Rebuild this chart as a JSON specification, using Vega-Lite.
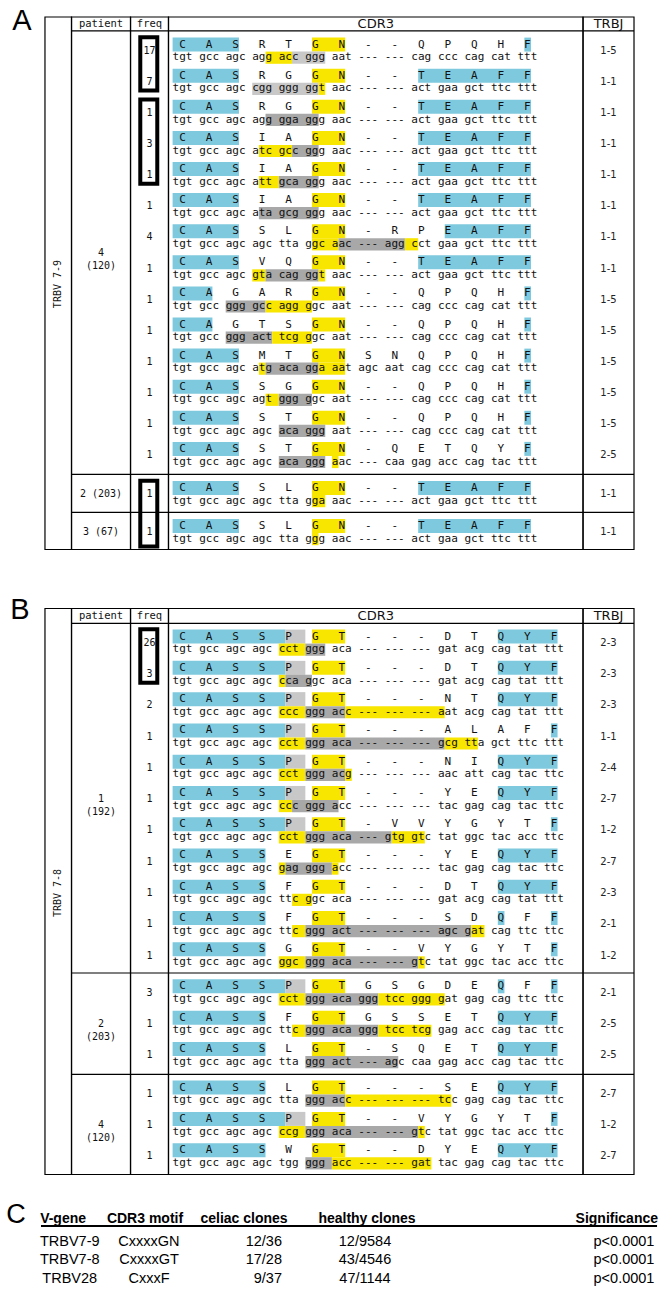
{
"$schema": "https://vega.github.io/schema/vega-lite/v6.json",
"padding": 0,
"spacing": 0,
"bounds": "flush",
"background": "white",
"config": {"view": {"stroke": null}, "axis": {"disable": true}, "legend": {"disable": true}},
"datasets": {
"cols": [
{"col":"vgene","header":"","from":-19.23,"to":-15.23},
{"col":"patient","header":"patient","from":-15.23,"to":-6.34},
{"col":"freq","header":"freq","from":-6.34,"to":-0.62},
{"col":"cdr3","header":"CDR3","from":-0.62,"to":61.84},
{"col":"trbj","header":"TRBJ","from":61.84,"to":69.52}
],
"seqA": [
{"row":0,"vgene":"TRBV 7-9","patient":"4 (120)","freq":17,"trbj":"1-5","aa":"C\u00a0\u00a0\u00a0A\u00a0\u00a0\u00a0S\u00a0\u00a0\u00a0R\u00a0\u00a0\u00a0T\u00a0\u00a0\u00a0G\u00a0\u00a0\u00a0N\u00a0\u00a0\u00a0-\u00a0\u00a0\u00a0-\u00a0\u00a0\u00a0Q\u00a0\u00a0\u00a0P\u00a0\u00a0\u00a0Q\u00a0\u00a0\u00a0H\u00a0\u00a0\u00a0F","nt":"tgt gcc agc agg acc ggg aat --- --- cag ccc cag cat ttt"},
{"row":1,"vgene":"TRBV 7-9","patient":"4 (120)","freq":7,"trbj":"1-1","aa":"C\u00a0\u00a0\u00a0A\u00a0\u00a0\u00a0S\u00a0\u00a0\u00a0R\u00a0\u00a0\u00a0G\u00a0\u00a0\u00a0G\u00a0\u00a0\u00a0N\u00a0\u00a0\u00a0-\u00a0\u00a0\u00a0-\u00a0\u00a0\u00a0T\u00a0\u00a0\u00a0E\u00a0\u00a0\u00a0A\u00a0\u00a0\u00a0F\u00a0\u00a0\u00a0F","nt":"tgt gcc agc cgg ggg ggt aac --- --- act gaa gct ttc ttt"},
{"row":2,"vgene":"TRBV 7-9","patient":"4 (120)","freq":1,"trbj":"1-1","aa":"C\u00a0\u00a0\u00a0A\u00a0\u00a0\u00a0S\u00a0\u00a0\u00a0R\u00a0\u00a0\u00a0G\u00a0\u00a0\u00a0G\u00a0\u00a0\u00a0N\u00a0\u00a0\u00a0-\u00a0\u00a0\u00a0-\u00a0\u00a0\u00a0T\u00a0\u00a0\u00a0E\u00a0\u00a0\u00a0A\u00a0\u00a0\u00a0F\u00a0\u00a0\u00a0F","nt":"tgt gcc agc agg gga ggg aac --- --- act gaa gct ttc ttt"},
{"row":3,"vgene":"TRBV 7-9","patient":"4 (120)","freq":3,"trbj":"1-1","aa":"C\u00a0\u00a0\u00a0A\u00a0\u00a0\u00a0S\u00a0\u00a0\u00a0I\u00a0\u00a0\u00a0A\u00a0\u00a0\u00a0G\u00a0\u00a0\u00a0N\u00a0\u00a0\u00a0-\u00a0\u00a0\u00a0-\u00a0\u00a0\u00a0T\u00a0\u00a0\u00a0E\u00a0\u00a0\u00a0A\u00a0\u00a0\u00a0F\u00a0\u00a0\u00a0F","nt":"tgt gcc agc atc gcc ggg aac --- --- act gaa gct ttc ttt"},
{"row":4,"vgene":"TRBV 7-9","patient":"4 (120)","freq":1,"trbj":"1-1","aa":"C\u00a0\u00a0\u00a0A\u00a0\u00a0\u00a0S\u00a0\u00a0\u00a0I\u00a0\u00a0\u00a0A\u00a0\u00a0\u00a0G\u00a0\u00a0\u00a0N\u00a0\u00a0\u00a0-\u00a0\u00a0\u00a0-\u00a0\u00a0\u00a0T\u00a0\u00a0\u00a0E\u00a0\u00a0\u00a0A\u00a0\u00a0\u00a0F\u00a0\u00a0\u00a0F","nt":"tgt gcc agc att gca ggg aac --- --- act gaa gct ttc ttt"},
{"row":5,"vgene":"TRBV 7-9","patient":"4 (120)","freq":1,"trbj":"1-1","aa":"C\u00a0\u00a0\u00a0A\u00a0\u00a0\u00a0S\u00a0\u00a0\u00a0I\u00a0\u00a0\u00a0A\u00a0\u00a0\u00a0G\u00a0\u00a0\u00a0N\u00a0\u00a0\u00a0-\u00a0\u00a0\u00a0-\u00a0\u00a0\u00a0T\u00a0\u00a0\u00a0E\u00a0\u00a0\u00a0A\u00a0\u00a0\u00a0F\u00a0\u00a0\u00a0F","nt":"tgt gcc agc ata gcg ggg aac --- --- act gaa gct ttc ttt"},
{"row":6,"vgene":"TRBV 7-9","patient":"4 (120)","freq":4,"trbj":"1-1","aa":"C\u00a0\u00a0\u00a0A\u00a0\u00a0\u00a0S\u00a0\u00a0\u00a0S\u00a0\u00a0\u00a0L\u00a0\u00a0\u00a0G\u00a0\u00a0\u00a0N\u00a0\u00a0\u00a0-\u00a0\u00a0\u00a0R\u00a0\u00a0\u00a0P\u00a0\u00a0\u00a0E\u00a0\u00a0\u00a0A\u00a0\u00a0\u00a0F\u00a0\u00a0\u00a0F","nt":"tgt gcc agc agc tta ggc aac --- agg cct gaa gct ttc ttt"},
{"row":7,"vgene":"TRBV 7-9","patient":"4 (120)","freq":1,"trbj":"1-1","aa":"C\u00a0\u00a0\u00a0A\u00a0\u00a0\u00a0S\u00a0\u00a0\u00a0V\u00a0\u00a0\u00a0Q\u00a0\u00a0\u00a0G\u00a0\u00a0\u00a0N\u00a0\u00a0\u00a0-\u00a0\u00a0\u00a0-\u00a0\u00a0\u00a0T\u00a0\u00a0\u00a0E\u00a0\u00a0\u00a0A\u00a0\u00a0\u00a0F\u00a0\u00a0\u00a0F","nt":"tgt gcc agc gta cag ggt aac --- --- act gaa gct ttc ttt"},
{"row":8,"vgene":"TRBV 7-9","patient":"4 (120)","freq":1,"trbj":"1-5","aa":"C\u00a0\u00a0\u00a0A\u00a0\u00a0\u00a0G\u00a0\u00a0\u00a0A\u00a0\u00a0\u00a0R\u00a0\u00a0\u00a0G\u00a0\u00a0\u00a0N\u00a0\u00a0\u00a0-\u00a0\u00a0\u00a0-\u00a0\u00a0\u00a0Q\u00a0\u00a0\u00a0P\u00a0\u00a0\u00a0Q\u00a0\u00a0\u00a0H\u00a0\u00a0\u00a0F","nt":"tgt gcc ggg gcc agg ggc aat --- --- cag ccc cag cat ttt"},
{"row":9,"vgene":"TRBV 7-9","patient":"4 (120)","freq":1,"trbj":"1-5","aa":"C\u00a0\u00a0\u00a0A\u00a0\u00a0\u00a0G\u00a0\u00a0\u00a0T\u00a0\u00a0\u00a0S\u00a0\u00a0\u00a0G\u00a0\u00a0\u00a0N\u00a0\u00a0\u00a0-\u00a0\u00a0\u00a0-\u00a0\u00a0\u00a0Q\u00a0\u00a0\u00a0P\u00a0\u00a0\u00a0Q\u00a0\u00a0\u00a0H\u00a0\u00a0\u00a0F","nt":"tgt gcc ggg act tcg ggc aat --- --- cag ccc cag cat ttt"},
{"row":10,"vgene":"TRBV 7-9","patient":"4 (120)","freq":1,"trbj":"1-5","aa":"C\u00a0\u00a0\u00a0A\u00a0\u00a0\u00a0S\u00a0\u00a0\u00a0M\u00a0\u00a0\u00a0T\u00a0\u00a0\u00a0G\u00a0\u00a0\u00a0N\u00a0\u00a0\u00a0S\u00a0\u00a0\u00a0N\u00a0\u00a0\u00a0Q\u00a0\u00a0\u00a0P\u00a0\u00a0\u00a0Q\u00a0\u00a0\u00a0H\u00a0\u00a0\u00a0F","nt":"tgt gcc agc atg aca gga aat agc aat cag ccc cag cat ttt"},
{"row":11,"vgene":"TRBV 7-9","patient":"4 (120)","freq":1,"trbj":"1-5","aa":"C\u00a0\u00a0\u00a0A\u00a0\u00a0\u00a0S\u00a0\u00a0\u00a0S\u00a0\u00a0\u00a0G\u00a0\u00a0\u00a0G\u00a0\u00a0\u00a0N\u00a0\u00a0\u00a0-\u00a0\u00a0\u00a0-\u00a0\u00a0\u00a0Q\u00a0\u00a0\u00a0P\u00a0\u00a0\u00a0Q\u00a0\u00a0\u00a0H\u00a0\u00a0\u00a0F","nt":"tgt gcc agc agt ggg ggc aat --- --- cag ccc cag cat ttt"},
{"row":12,"vgene":"TRBV 7-9","patient":"4 (120)","freq":1,"trbj":"1-5","aa":"C\u00a0\u00a0\u00a0A\u00a0\u00a0\u00a0S\u00a0\u00a0\u00a0S\u00a0\u00a0\u00a0T\u00a0\u00a0\u00a0G\u00a0\u00a0\u00a0N\u00a0\u00a0\u00a0-\u00a0\u00a0\u00a0-\u00a0\u00a0\u00a0Q\u00a0\u00a0\u00a0P\u00a0\u00a0\u00a0Q\u00a0\u00a0\u00a0H\u00a0\u00a0\u00a0F","nt":"tgt gcc agc agc aca ggg aat --- --- cag ccc cag cat ttt"},
{"row":13,"vgene":"TRBV 7-9","patient":"4 (120)","freq":1,"trbj":"2-5","aa":"C\u00a0\u00a0\u00a0A\u00a0\u00a0\u00a0S\u00a0\u00a0\u00a0S\u00a0\u00a0\u00a0T\u00a0\u00a0\u00a0G\u00a0\u00a0\u00a0N\u00a0\u00a0\u00a0-\u00a0\u00a0\u00a0Q\u00a0\u00a0\u00a0E\u00a0\u00a0\u00a0T\u00a0\u00a0\u00a0Q\u00a0\u00a0\u00a0Y\u00a0\u00a0\u00a0F","nt":"tgt gcc agc agc aca ggg aac --- caa gag acc cag tac ttt"},
{"row":14,"vgene":"TRBV 7-9","patient":"2 (203)","freq":1,"trbj":"1-1","aa":"C\u00a0\u00a0\u00a0A\u00a0\u00a0\u00a0S\u00a0\u00a0\u00a0S\u00a0\u00a0\u00a0L\u00a0\u00a0\u00a0G\u00a0\u00a0\u00a0N\u00a0\u00a0\u00a0-\u00a0\u00a0\u00a0-\u00a0\u00a0\u00a0T\u00a0\u00a0\u00a0E\u00a0\u00a0\u00a0A\u00a0\u00a0\u00a0F\u00a0\u00a0\u00a0F","nt":"tgt gcc agc agc tta gga aac --- --- act gaa gct ttc ttt"},
{"row":15,"vgene":"TRBV 7-9","patient":"3 (67)","freq":1,"trbj":"1-1","aa":"C\u00a0\u00a0\u00a0A\u00a0\u00a0\u00a0S\u00a0\u00a0\u00a0S\u00a0\u00a0\u00a0L\u00a0\u00a0\u00a0G\u00a0\u00a0\u00a0N\u00a0\u00a0\u00a0-\u00a0\u00a0\u00a0-\u00a0\u00a0\u00a0T\u00a0\u00a0\u00a0E\u00a0\u00a0\u00a0A\u00a0\u00a0\u00a0F\u00a0\u00a0\u00a0F","nt":"tgt gcc agc agc tta ggg aac --- --- act gaa gct ttc ttt"}
],
"hlA": [
{"row":0,"line":"aa","from":0,"to":10,"hl":"blue"},{"row":0,"line":"aa","from":21,"to":26,"hl":"yellow"},{"row":0,"line":"aa","from":53,"to":54,"hl":"blue"},
{"row":0,"line":"nt","from":14,"to":18,"hl":"yellow"},{"row":0,"line":"nt","from":18,"to":23,"hl":"light grey"},
{"row":1,"line":"aa","from":0,"to":10,"hl":"blue"},{"row":1,"line":"aa","from":21,"to":26,"hl":"yellow"},{"row":1,"line":"aa","from":37,"to":54,"hl":"blue"},
{"row":1,"line":"nt","from":12,"to":22,"hl":"light grey"},{"row":1,"line":"nt","from":22,"to":23,"hl":"yellow"},
{"row":2,"line":"aa","from":0,"to":10,"hl":"blue"},{"row":2,"line":"aa","from":21,"to":26,"hl":"yellow"},{"row":2,"line":"aa","from":37,"to":54,"hl":"blue"},
{"row":2,"line":"nt","from":14,"to":22,"hl":"dark grey"},
{"row":3,"line":"aa","from":0,"to":10,"hl":"blue"},{"row":3,"line":"aa","from":21,"to":26,"hl":"yellow"},{"row":3,"line":"aa","from":37,"to":54,"hl":"blue"},
{"row":3,"line":"nt","from":13,"to":18,"hl":"yellow"},{"row":3,"line":"nt","from":18,"to":22,"hl":"dark grey"},
{"row":4,"line":"aa","from":0,"to":10,"hl":"blue"},{"row":4,"line":"aa","from":21,"to":26,"hl":"yellow"},{"row":4,"line":"aa","from":37,"to":54,"hl":"blue"},
{"row":4,"line":"nt","from":13,"to":16,"hl":"yellow"},{"row":4,"line":"nt","from":16,"to":22,"hl":"dark grey"},
{"row":5,"line":"aa","from":0,"to":10,"hl":"blue"},{"row":5,"line":"aa","from":21,"to":26,"hl":"yellow"},{"row":5,"line":"aa","from":37,"to":54,"hl":"blue"},
{"row":5,"line":"nt","from":13,"to":22,"hl":"dark grey"},
{"row":6,"line":"aa","from":0,"to":10,"hl":"blue"},{"row":6,"line":"aa","from":21,"to":26,"hl":"yellow"},{"row":6,"line":"aa","from":41,"to":54,"hl":"blue"},
{"row":6,"line":"nt","from":21,"to":25,"hl":"yellow"},{"row":6,"line":"nt","from":25,"to":35,"hl":"dark grey"},{"row":6,"line":"nt","from":35,"to":37,"hl":"yellow"},
{"row":7,"line":"aa","from":0,"to":10,"hl":"blue"},{"row":7,"line":"aa","from":21,"to":26,"hl":"yellow"},{"row":7,"line":"aa","from":37,"to":54,"hl":"blue"},
{"row":7,"line":"nt","from":12,"to":14,"hl":"yellow"},{"row":7,"line":"nt","from":14,"to":22,"hl":"dark grey"},{"row":7,"line":"nt","from":22,"to":23,"hl":"yellow"},
{"row":8,"line":"aa","from":0,"to":6,"hl":"blue"},{"row":8,"line":"aa","from":21,"to":26,"hl":"yellow"},{"row":8,"line":"aa","from":53,"to":54,"hl":"blue"},
{"row":8,"line":"nt","from":8,"to":14,"hl":"dark grey"},{"row":8,"line":"nt","from":14,"to":21,"hl":"yellow"},
{"row":9,"line":"aa","from":0,"to":6,"hl":"blue"},{"row":9,"line":"aa","from":21,"to":26,"hl":"yellow"},{"row":9,"line":"aa","from":53,"to":54,"hl":"blue"},
{"row":9,"line":"nt","from":8,"to":15,"hl":"dark grey"},{"row":9,"line":"nt","from":15,"to":21,"hl":"yellow"},
{"row":10,"line":"aa","from":0,"to":10,"hl":"blue"},{"row":10,"line":"aa","from":21,"to":26,"hl":"yellow"},{"row":10,"line":"aa","from":53,"to":54,"hl":"blue"},
{"row":10,"line":"nt","from":13,"to":14,"hl":"yellow"},{"row":10,"line":"nt","from":14,"to":22,"hl":"dark grey"},{"row":10,"line":"nt","from":22,"to":26,"hl":"yellow"},
{"row":11,"line":"aa","from":0,"to":10,"hl":"blue"},{"row":11,"line":"aa","from":21,"to":26,"hl":"yellow"},{"row":11,"line":"aa","from":53,"to":54,"hl":"blue"},
{"row":11,"line":"nt","from":14,"to":16,"hl":"yellow"},{"row":11,"line":"nt","from":16,"to":21,"hl":"dark grey"},
{"row":12,"line":"aa","from":0,"to":10,"hl":"blue"},{"row":12,"line":"aa","from":21,"to":26,"hl":"yellow"},{"row":12,"line":"aa","from":53,"to":54,"hl":"blue"},
{"row":12,"line":"nt","from":16,"to":23,"hl":"dark grey"},
{"row":13,"line":"aa","from":0,"to":10,"hl":"blue"},{"row":13,"line":"aa","from":21,"to":26,"hl":"yellow"},{"row":13,"line":"aa","from":53,"to":54,"hl":"blue"},
{"row":13,"line":"nt","from":16,"to":23,"hl":"dark grey"},{"row":13,"line":"nt","from":24,"to":25,"hl":"yellow"},
{"row":14,"line":"aa","from":0,"to":10,"hl":"blue"},{"row":14,"line":"aa","from":21,"to":26,"hl":"yellow"},{"row":14,"line":"aa","from":37,"to":54,"hl":"blue"},
{"row":14,"line":"nt","from":21,"to":23,"hl":"yellow"},
{"row":15,"line":"aa","from":0,"to":10,"hl":"blue"},{"row":15,"line":"aa","from":21,"to":26,"hl":"yellow"},{"row":15,"line":"aa","from":37,"to":54,"hl":"blue"},
{"row":15,"line":"nt","from":21,"to":22,"hl":"yellow"}
],
"boxesA": [{"from":0,"to":2},{"from":2,"to":5},{"from":14,"to":16}],
"seqB": [
{"row":0,"vgene":"TRBV 7-8","patient":"1 (192)","freq":26,"trbj":"2-3","aa":"C\u00a0\u00a0\u00a0A\u00a0\u00a0\u00a0S\u00a0\u00a0\u00a0S\u00a0\u00a0\u00a0P\u00a0\u00a0\u00a0G\u00a0\u00a0\u00a0T\u00a0\u00a0\u00a0-\u00a0\u00a0\u00a0-\u00a0\u00a0\u00a0-\u00a0\u00a0\u00a0D\u00a0\u00a0\u00a0T\u00a0\u00a0\u00a0Q\u00a0\u00a0\u00a0Y\u00a0\u00a0\u00a0F","nt":"tgt gcc agc agc cct ggg aca --- --- --- gat acg cag tat ttt"},
{"row":1,"vgene":"TRBV 7-8","patient":"1 (192)","freq":3,"trbj":"2-3","aa":"C\u00a0\u00a0\u00a0A\u00a0\u00a0\u00a0S\u00a0\u00a0\u00a0S\u00a0\u00a0\u00a0P\u00a0\u00a0\u00a0G\u00a0\u00a0\u00a0T\u00a0\u00a0\u00a0-\u00a0\u00a0\u00a0-\u00a0\u00a0\u00a0-\u00a0\u00a0\u00a0D\u00a0\u00a0\u00a0T\u00a0\u00a0\u00a0Q\u00a0\u00a0\u00a0Y\u00a0\u00a0\u00a0F","nt":"tgt gcc agc agc cca ggc aca --- --- --- gat acg cag tat ttt"},
{"row":2,"vgene":"TRBV 7-8","patient":"1 (192)","freq":2,"trbj":"2-3","aa":"C\u00a0\u00a0\u00a0A\u00a0\u00a0\u00a0S\u00a0\u00a0\u00a0S\u00a0\u00a0\u00a0P\u00a0\u00a0\u00a0G\u00a0\u00a0\u00a0T\u00a0\u00a0\u00a0-\u00a0\u00a0\u00a0-\u00a0\u00a0\u00a0-\u00a0\u00a0\u00a0N\u00a0\u00a0\u00a0T\u00a0\u00a0\u00a0Q\u00a0\u00a0\u00a0Y\u00a0\u00a0\u00a0F","nt":"tgt gcc agc agc ccc ggg acc --- --- --- aat acg cag tat ttt"},
{"row":3,"vgene":"TRBV 7-8","patient":"1 (192)","freq":1,"trbj":"1-1","aa":"C\u00a0\u00a0\u00a0A\u00a0\u00a0\u00a0S\u00a0\u00a0\u00a0S\u00a0\u00a0\u00a0P\u00a0\u00a0\u00a0G\u00a0\u00a0\u00a0T\u00a0\u00a0\u00a0-\u00a0\u00a0\u00a0-\u00a0\u00a0\u00a0-\u00a0\u00a0\u00a0A\u00a0\u00a0\u00a0L\u00a0\u00a0\u00a0A\u00a0\u00a0\u00a0F\u00a0\u00a0\u00a0F","nt":"tgt gcc agc agc cct ggg aca --- --- --- gcg tta gct ttc ttt"},
{"row":4,"vgene":"TRBV 7-8","patient":"1 (192)","freq":1,"trbj":"2-4","aa":"C\u00a0\u00a0\u00a0A\u00a0\u00a0\u00a0S\u00a0\u00a0\u00a0S\u00a0\u00a0\u00a0P\u00a0\u00a0\u00a0G\u00a0\u00a0\u00a0T\u00a0\u00a0\u00a0-\u00a0\u00a0\u00a0-\u00a0\u00a0\u00a0-\u00a0\u00a0\u00a0N\u00a0\u00a0\u00a0I\u00a0\u00a0\u00a0Q\u00a0\u00a0\u00a0Y\u00a0\u00a0\u00a0F","nt":"tgt gcc agc agc cct ggg acg --- --- --- aac att cag tac ttc"},
{"row":5,"vgene":"TRBV 7-8","patient":"1 (192)","freq":1,"trbj":"2-7","aa":"C\u00a0\u00a0\u00a0A\u00a0\u00a0\u00a0S\u00a0\u00a0\u00a0S\u00a0\u00a0\u00a0P\u00a0\u00a0\u00a0G\u00a0\u00a0\u00a0T\u00a0\u00a0\u00a0-\u00a0\u00a0\u00a0-\u00a0\u00a0\u00a0-\u00a0\u00a0\u00a0Y\u00a0\u00a0\u00a0E\u00a0\u00a0\u00a0Q\u00a0\u00a0\u00a0Y\u00a0\u00a0\u00a0F","nt":"tgt gcc agc agc ccc ggg acc --- --- --- tac gag cag tac ttc"},
{"row":6,"vgene":"TRBV 7-8","patient":"1 (192)","freq":1,"trbj":"1-2","aa":"C\u00a0\u00a0\u00a0A\u00a0\u00a0\u00a0S\u00a0\u00a0\u00a0S\u00a0\u00a0\u00a0P\u00a0\u00a0\u00a0G\u00a0\u00a0\u00a0T\u00a0\u00a0\u00a0-\u00a0\u00a0\u00a0V\u00a0\u00a0\u00a0V\u00a0\u00a0\u00a0Y\u00a0\u00a0\u00a0G\u00a0\u00a0\u00a0Y\u00a0\u00a0\u00a0T\u00a0\u00a0\u00a0F","nt":"tgt gcc agc agc cct ggg aca --- gtg gtc tat ggc tac acc ttc"},
{"row":7,"vgene":"TRBV 7-8","patient":"1 (192)","freq":1,"trbj":"2-7","aa":"C\u00a0\u00a0\u00a0A\u00a0\u00a0\u00a0S\u00a0\u00a0\u00a0S\u00a0\u00a0\u00a0E\u00a0\u00a0\u00a0G\u00a0\u00a0\u00a0T\u00a0\u00a0\u00a0-\u00a0\u00a0\u00a0-\u00a0\u00a0\u00a0-\u00a0\u00a0\u00a0Y\u00a0\u00a0\u00a0E\u00a0\u00a0\u00a0Q\u00a0\u00a0\u00a0Y\u00a0\u00a0\u00a0F","nt":"tgt gcc agc agc gag ggg acc --- --- --- tac gag cag tac ttc"},
{"row":8,"vgene":"TRBV 7-8","patient":"1 (192)","freq":1,"trbj":"2-3","aa":"C\u00a0\u00a0\u00a0A\u00a0\u00a0\u00a0S\u00a0\u00a0\u00a0S\u00a0\u00a0\u00a0F\u00a0\u00a0\u00a0G\u00a0\u00a0\u00a0T\u00a0\u00a0\u00a0-\u00a0\u00a0\u00a0-\u00a0\u00a0\u00a0-\u00a0\u00a0\u00a0D\u00a0\u00a0\u00a0T\u00a0\u00a0\u00a0Q\u00a0\u00a0\u00a0Y\u00a0\u00a0\u00a0F","nt":"tgt gcc agc agc ttc ggc aca --- --- --- gat acg cag tat ttt"},
{"row":9,"vgene":"TRBV 7-8","patient":"1 (192)","freq":1,"trbj":"2-1","aa":"C\u00a0\u00a0\u00a0A\u00a0\u00a0\u00a0S\u00a0\u00a0\u00a0S\u00a0\u00a0\u00a0F\u00a0\u00a0\u00a0G\u00a0\u00a0\u00a0T\u00a0\u00a0\u00a0-\u00a0\u00a0\u00a0-\u00a0\u00a0\u00a0-\u00a0\u00a0\u00a0S\u00a0\u00a0\u00a0D\u00a0\u00a0\u00a0Q\u00a0\u00a0\u00a0F\u00a0\u00a0\u00a0F","nt":"tgt gcc agc agc ttc ggg act --- --- --- agc gat cag ttc ttc"},
{"row":10,"vgene":"TRBV 7-8","patient":"1 (192)","freq":1,"trbj":"1-2","aa":"C\u00a0\u00a0\u00a0A\u00a0\u00a0\u00a0S\u00a0\u00a0\u00a0S\u00a0\u00a0\u00a0G\u00a0\u00a0\u00a0G\u00a0\u00a0\u00a0T\u00a0\u00a0\u00a0-\u00a0\u00a0\u00a0-\u00a0\u00a0\u00a0V\u00a0\u00a0\u00a0Y\u00a0\u00a0\u00a0G\u00a0\u00a0\u00a0Y\u00a0\u00a0\u00a0T\u00a0\u00a0\u00a0F","nt":"tgt gcc agc agc ggc ggg aca --- --- gtc tat ggc tac acc ttc"},
{"row":11,"vgene":"TRBV 7-8","patient":"2 (203)","freq":3,"trbj":"2-1","aa":"C\u00a0\u00a0\u00a0A\u00a0\u00a0\u00a0S\u00a0\u00a0\u00a0S\u00a0\u00a0\u00a0P\u00a0\u00a0\u00a0G\u00a0\u00a0\u00a0T\u00a0\u00a0\u00a0G\u00a0\u00a0\u00a0S\u00a0\u00a0\u00a0G\u00a0\u00a0\u00a0D\u00a0\u00a0\u00a0E\u00a0\u00a0\u00a0Q\u00a0\u00a0\u00a0F\u00a0\u00a0\u00a0F","nt":"tgt gcc agc agc cct ggg aca ggg tcc ggg gat gag cag ttc ttc"},
{"row":12,"vgene":"TRBV 7-8","patient":"2 (203)","freq":1,"trbj":"2-5","aa":"C\u00a0\u00a0\u00a0A\u00a0\u00a0\u00a0S\u00a0\u00a0\u00a0S\u00a0\u00a0\u00a0F\u00a0\u00a0\u00a0G\u00a0\u00a0\u00a0T\u00a0\u00a0\u00a0G\u00a0\u00a0\u00a0S\u00a0\u00a0\u00a0S\u00a0\u00a0\u00a0E\u00a0\u00a0\u00a0T\u00a0\u00a0\u00a0Q\u00a0\u00a0\u00a0Y\u00a0\u00a0\u00a0F","nt":"tgt gcc agc agc ttc ggg aca ggg tcc tcg gag acc cag tac ttc"},
{"row":13,"vgene":"TRBV 7-8","patient":"2 (203)","freq":1,"trbj":"2-5","aa":"C\u00a0\u00a0\u00a0A\u00a0\u00a0\u00a0S\u00a0\u00a0\u00a0S\u00a0\u00a0\u00a0L\u00a0\u00a0\u00a0G\u00a0\u00a0\u00a0T\u00a0\u00a0\u00a0-\u00a0\u00a0\u00a0S\u00a0\u00a0\u00a0Q\u00a0\u00a0\u00a0E\u00a0\u00a0\u00a0T\u00a0\u00a0\u00a0Q\u00a0\u00a0\u00a0Y\u00a0\u00a0\u00a0F","nt":"tgt gcc agc agc tta ggg act --- agc caa gag acc cag tac ttc"},
{"row":14,"vgene":"TRBV 7-8","patient":"4 (120)","freq":1,"trbj":"2-7","aa":"C\u00a0\u00a0\u00a0A\u00a0\u00a0\u00a0S\u00a0\u00a0\u00a0S\u00a0\u00a0\u00a0L\u00a0\u00a0\u00a0G\u00a0\u00a0\u00a0T\u00a0\u00a0\u00a0-\u00a0\u00a0\u00a0-\u00a0\u00a0\u00a0-\u00a0\u00a0\u00a0S\u00a0\u00a0\u00a0E\u00a0\u00a0\u00a0Q\u00a0\u00a0\u00a0Y\u00a0\u00a0\u00a0F","nt":"tgt gcc agc agc tta ggg acc --- --- --- tcc gag cag tac ttc"},
{"row":15,"vgene":"TRBV 7-8","patient":"4 (120)","freq":1,"trbj":"1-2","aa":"C\u00a0\u00a0\u00a0A\u00a0\u00a0\u00a0S\u00a0\u00a0\u00a0S\u00a0\u00a0\u00a0P\u00a0\u00a0\u00a0G\u00a0\u00a0\u00a0T\u00a0\u00a0\u00a0-\u00a0\u00a0\u00a0-\u00a0\u00a0\u00a0V\u00a0\u00a0\u00a0Y\u00a0\u00a0\u00a0G\u00a0\u00a0\u00a0Y\u00a0\u00a0\u00a0T\u00a0\u00a0\u00a0F","nt":"tgt gcc agc agc ccg ggg aca --- --- gtc tat ggc tac acc ttc"},
{"row":16,"vgene":"TRBV 7-8","patient":"4 (120)","freq":1,"trbj":"2-7","aa":"C\u00a0\u00a0\u00a0A\u00a0\u00a0\u00a0S\u00a0\u00a0\u00a0S\u00a0\u00a0\u00a0W\u00a0\u00a0\u00a0G\u00a0\u00a0\u00a0T\u00a0\u00a0\u00a0-\u00a0\u00a0\u00a0-\u00a0\u00a0\u00a0D\u00a0\u00a0\u00a0Y\u00a0\u00a0\u00a0E\u00a0\u00a0\u00a0Q\u00a0\u00a0\u00a0Y\u00a0\u00a0\u00a0F","nt":"tgt gcc agc agc tgg ggg acc --- --- gat tac gag cag tac ttc"}
],
"hlB": [
{"row":0,"line":"aa","from":0,"to":17,"hl":"blue"},{"row":0,"line":"aa","from":17,"to":20,"hl":"light grey"},{"row":0,"line":"aa","from":21,"to":26,"hl":"yellow"},{"row":0,"line":"aa","from":49,"to":58,"hl":"blue"},
{"row":0,"line":"nt","from":16,"to":20,"hl":"yellow"},{"row":0,"line":"nt","from":20,"to":23,"hl":"dark grey"},
{"row":1,"line":"aa","from":0,"to":17,"hl":"blue"},{"row":1,"line":"aa","from":17,"to":20,"hl":"light grey"},{"row":1,"line":"aa","from":21,"to":26,"hl":"yellow"},{"row":1,"line":"aa","from":49,"to":58,"hl":"blue"},
{"row":1,"line":"nt","from":16,"to":17,"hl":"yellow"},{"row":1,"line":"nt","from":17,"to":21,"hl":"dark grey"},
{"row":2,"line":"aa","from":0,"to":17,"hl":"blue"},{"row":2,"line":"aa","from":17,"to":20,"hl":"light grey"},{"row":2,"line":"aa","from":21,"to":26,"hl":"yellow"},{"row":2,"line":"aa","from":49,"to":58,"hl":"blue"},
{"row":2,"line":"nt","from":16,"to":20,"hl":"yellow"},{"row":2,"line":"nt","from":20,"to":26,"hl":"dark grey"},{"row":2,"line":"nt","from":26,"to":41,"hl":"yellow"},
{"row":3,"line":"aa","from":0,"to":17,"hl":"blue"},{"row":3,"line":"aa","from":17,"to":20,"hl":"light grey"},{"row":3,"line":"aa","from":21,"to":26,"hl":"yellow"},{"row":3,"line":"aa","from":57,"to":58,"hl":"blue"},
{"row":3,"line":"nt","from":16,"to":20,"hl":"yellow"},{"row":3,"line":"nt","from":20,"to":41,"hl":"dark grey"},{"row":3,"line":"nt","from":41,"to":46,"hl":"yellow"},
{"row":4,"line":"aa","from":0,"to":17,"hl":"blue"},{"row":4,"line":"aa","from":17,"to":20,"hl":"light grey"},{"row":4,"line":"aa","from":21,"to":26,"hl":"yellow"},{"row":4,"line":"aa","from":49,"to":58,"hl":"blue"},
{"row":4,"line":"nt","from":16,"to":20,"hl":"yellow"},{"row":4,"line":"nt","from":20,"to":26,"hl":"dark grey"},{"row":4,"line":"nt","from":26,"to":27,"hl":"yellow"},
{"row":5,"line":"aa","from":0,"to":17,"hl":"blue"},{"row":5,"line":"aa","from":17,"to":20,"hl":"light grey"},{"row":5,"line":"aa","from":21,"to":26,"hl":"yellow"},{"row":5,"line":"aa","from":49,"to":58,"hl":"blue"},
{"row":5,"line":"nt","from":16,"to":18,"hl":"yellow"},{"row":5,"line":"nt","from":18,"to":25,"hl":"dark grey"},
{"row":6,"line":"aa","from":0,"to":17,"hl":"blue"},{"row":6,"line":"aa","from":17,"to":20,"hl":"light grey"},{"row":6,"line":"aa","from":21,"to":26,"hl":"yellow"},{"row":6,"line":"aa","from":57,"to":58,"hl":"blue"},
{"row":6,"line":"nt","from":16,"to":20,"hl":"yellow"},{"row":6,"line":"nt","from":20,"to":33,"hl":"dark grey"},{"row":6,"line":"nt","from":33,"to":38,"hl":"yellow"},
{"row":7,"line":"aa","from":0,"to":14,"hl":"blue"},{"row":7,"line":"aa","from":21,"to":26,"hl":"yellow"},{"row":7,"line":"aa","from":49,"to":58,"hl":"blue"},
{"row":7,"line":"nt","from":16,"to":17,"hl":"yellow"},{"row":7,"line":"nt","from":17,"to":24,"hl":"dark grey"},{"row":7,"line":"nt","from":24,"to":25,"hl":"yellow"},
{"row":8,"line":"aa","from":0,"to":14,"hl":"blue"},{"row":8,"line":"aa","from":21,"to":26,"hl":"yellow"},{"row":8,"line":"aa","from":49,"to":58,"hl":"blue"},
{"row":8,"line":"nt","from":18,"to":21,"hl":"yellow"},
{"row":9,"line":"aa","from":0,"to":14,"hl":"blue"},{"row":9,"line":"aa","from":21,"to":26,"hl":"yellow"},{"row":9,"line":"aa","from":49,"to":50,"hl":"blue"},{"row":9,"line":"aa","from":57,"to":58,"hl":"blue"},
{"row":9,"line":"nt","from":18,"to":20,"hl":"yellow"},{"row":9,"line":"nt","from":20,"to":45,"hl":"dark grey"},{"row":9,"line":"nt","from":45,"to":47,"hl":"yellow"},
{"row":10,"line":"aa","from":0,"to":14,"hl":"blue"},{"row":10,"line":"aa","from":21,"to":26,"hl":"yellow"},{"row":10,"line":"aa","from":57,"to":58,"hl":"blue"},
{"row":10,"line":"nt","from":16,"to":20,"hl":"yellow"},{"row":10,"line":"nt","from":20,"to":37,"hl":"dark grey"},{"row":10,"line":"nt","from":37,"to":38,"hl":"yellow"},
{"row":11,"line":"aa","from":0,"to":17,"hl":"blue"},{"row":11,"line":"aa","from":17,"to":20,"hl":"light grey"},{"row":11,"line":"aa","from":21,"to":26,"hl":"yellow"},{"row":11,"line":"aa","from":49,"to":50,"hl":"blue"},{"row":11,"line":"aa","from":57,"to":58,"hl":"blue"},
{"row":11,"line":"nt","from":16,"to":20,"hl":"yellow"},{"row":11,"line":"nt","from":20,"to":31,"hl":"dark grey"},{"row":11,"line":"nt","from":31,"to":41,"hl":"yellow"},
{"row":12,"line":"aa","from":0,"to":14,"hl":"blue"},{"row":12,"line":"aa","from":21,"to":26,"hl":"yellow"},{"row":12,"line":"aa","from":49,"to":58,"hl":"blue"},
{"row":12,"line":"nt","from":18,"to":20,"hl":"yellow"},{"row":12,"line":"nt","from":20,"to":31,"hl":"dark grey"},{"row":12,"line":"nt","from":31,"to":39,"hl":"yellow"},
{"row":13,"line":"aa","from":0,"to":14,"hl":"blue"},{"row":13,"line":"aa","from":21,"to":26,"hl":"yellow"},{"row":13,"line":"aa","from":49,"to":58,"hl":"blue"},
{"row":13,"line":"nt","from":20,"to":34,"hl":"dark grey"},
{"row":14,"line":"aa","from":0,"to":14,"hl":"blue"},{"row":14,"line":"aa","from":21,"to":26,"hl":"yellow"},{"row":14,"line":"aa","from":49,"to":58,"hl":"blue"},
{"row":14,"line":"nt","from":20,"to":26,"hl":"dark grey"},{"row":14,"line":"nt","from":26,"to":42,"hl":"yellow"},
{"row":15,"line":"aa","from":0,"to":17,"hl":"blue"},{"row":15,"line":"aa","from":17,"to":20,"hl":"light grey"},{"row":15,"line":"aa","from":21,"to":26,"hl":"yellow"},{"row":15,"line":"aa","from":57,"to":58,"hl":"blue"},
{"row":15,"line":"nt","from":16,"to":20,"hl":"yellow"},{"row":15,"line":"nt","from":20,"to":37,"hl":"dark grey"},{"row":15,"line":"nt","from":37,"to":38,"hl":"yellow"},
{"row":16,"line":"aa","from":0,"to":14,"hl":"blue"},{"row":16,"line":"aa","from":21,"to":26,"hl":"yellow"},{"row":16,"line":"aa","from":49,"to":58,"hl":"blue"},
{"row":16,"line":"nt","from":20,"to":24,"hl":"dark grey"},{"row":16,"line":"nt","from":24,"to":39,"hl":"yellow"}
],
"boxesB": [{"from":0,"to":2}],
"tableC": [
{"vgene":"TRBV7-9","motif":"CxxxxGN","celiac":"12/36","healthy":"12/9584","sig":"p<0.0001"},
{"vgene":"TRBV7-8","motif":"CxxxxGT","celiac":"17/28","healthy":"43/4546","sig":"p<0.0001"},
{"vgene":"TRBV28","motif":"CxxxF","celiac":"9/37","healthy":"47/1144","sig":"p<0.0001"}
]
},
"vconcat": [
{
"width": 661, "height": 580,
"layer": [
{"data": {"name": "hlA"}, "transform": [{"filter": {"field": "line", "equal": "aa"}}],
 "mark": {"type": "rect", "yOffset": 6.3, "y2Offset": 20.3},
 "encoding": {
  "x": {"field": "from", "type": "quantitative", "scale": {"domain": [-26.006, 73.587], "nice": false, "zero": false}, "axis": null},
  "x2": {"field": "to"},
  "y": {"field": "row", "type": "quantitative", "scale": {"domain": [-1, 0, 13, 14, 15, 16], "range": [17, 31.3, 435.6, 474.7, 512.7, 549.5], "nice": false, "zero": false}, "axis": null},
  "y2": {"field": "row"},
  "color": {"field": "hl", "type": "nominal", "scale": {"domain": ["blue","yellow","light grey","dark grey"], "range": ["#7fc9de","#f8e500","#c8c8c8","#a8a8a8"]}, "legend": null}}},
{"data": {"name": "hlA"}, "transform": [{"filter": {"field": "line", "equal": "nt"}}],
 "mark": {"type": "rect", "yOffset": 20.3, "y2Offset": 32.5},
 "encoding": {
  "x": {"field": "from", "type": "quantitative"},
  "x2": {"field": "to"},
  "y": {"field": "row", "type": "quantitative"},
  "y2": {"field": "row"},
  "color": {"field": "hl", "type": "nominal", "legend": null}}},
{"data": {"name": "seqA"},
 "mark": {"type": "text", "align": "left", "baseline": "middle", "yOffset": 13.3, "font": "DejaVu Sans Mono", "fontSize": 11.024, "color": "#111"},
 "encoding": {"x": {"datum": 1}, "y": {"field": "row", "type": "quantitative"}, "text": {"field": "aa"}}},
{"data": {"name": "seqA"},
 "mark": {"type": "text", "align": "left", "baseline": "middle", "yOffset": 26, "font": "DejaVu Sans Mono", "fontSize": 11.024, "color": "#111"},
 "encoding": {"x": {"datum": 0}, "y": {"field": "row", "type": "quantitative"}, "text": {"field": "nt"}}},
{"data": {"name": "seqA"},
 "mark": {"type": "text", "align": "center", "baseline": "middle", "yOffset": 19.5, "font": "DejaVu Sans Mono", "fontSize": 10, "color": "#111"},
 "encoding": {"x": {"datum": -3.48}, "y": {"field": "row", "type": "quantitative"}, "text": {"field": "freq"}}},
{"data": {"name": "seqA"},
 "mark": {"type": "text", "align": "center", "baseline": "middle", "yOffset": 19.5, "font": "DejaVu Sans", "fontSize": 10, "color": "#222"},
 "encoding": {"x": {"datum": 65.68}, "y": {"field": "row", "type": "quantitative"}, "text": {"field": "trbj"}}},
{"data": {"name": "seqA"},
 "transform": [{"aggregate": [{"op": "mean", "field": "row", "as": "mid"}, {"op": "count", "as": "n"}], "groupby": ["patient"]}, {"filter": "datum.n > 1"}],
 "mark": {"type": "text", "align": "center", "baseline": "middle", "lineBreak": " ", "lineHeight": 13, "yOffset": 19.5, "font": "DejaVu Sans Mono", "fontSize": 10, "color": "#111"},
 "encoding": {"x": {"datum": -10.785}, "y": {"field": "mid", "type": "quantitative"}, "text": {"field": "patient"}}},
{"data": {"name": "seqA"},
 "transform": [{"aggregate": [{"op": "mean", "field": "row", "as": "mid"}, {"op": "count", "as": "n"}], "groupby": ["patient"]}, {"filter": "datum.n == 1"}],
 "mark": {"type": "text", "align": "center", "baseline": "middle", "yOffset": 19.5, "font": "DejaVu Sans Mono", "fontSize": 10, "color": "#111"},
 "encoding": {"x": {"datum": -10.785}, "y": {"field": "mid", "type": "quantitative"}, "text": {"field": "patient"}}},
{"data": {"name": "seqA"},
 "transform": [{"aggregate": [{"op": "mean", "field": "row", "as": "mid"}], "groupby": ["vgene"]}],
 "mark": {"type": "text", "align": "center", "baseline": "middle", "angle": 270, "yOffset": 19.5, "font": "DejaVu Sans Mono", "fontSize": 10, "color": "#111"},
 "encoding": {"x": {"datum": -17.23}, "y": {"field": "mid", "type": "quantitative"}, "text": {"field": "vgene"}}},
{"data": {"name": "cols"},
 "transform": [{"filter": {"field": "header", "oneOf": ["patient", "freq"]}}, {"fold": ["from", "to"]}, {"aggregate": [{"op": "mean", "field": "value", "as": "mid"}], "groupby": ["header"]}],
 "mark": {"type": "text", "align": "center", "baseline": "middle", "font": "DejaVu Sans Mono", "fontSize": 10.5, "color": "#111"},
 "encoding": {"x": {"field": "mid", "type": "quantitative"}, "y": {"datum": -0.5}, "text": {"field": "header"}}},
{"data": {"name": "cols"},
 "transform": [{"filter": {"field": "header", "oneOf": ["CDR3", "TRBJ"]}}, {"fold": ["from", "to"]}, {"aggregate": [{"op": "mean", "field": "value", "as": "mid"}], "groupby": ["header"]}],
 "mark": {"type": "text", "align": "center", "baseline": "middle", "font": "DejaVu Sans", "fontSize": 13, "color": "#111"},
 "encoding": {"x": {"field": "mid", "type": "quantitative"}, "y": {"datum": -0.5}, "text": {"field": "header"}}},
{"data": {"name": "cols"},
 "mark": {"type": "rect", "filled": false, "stroke": "black", "strokeWidth": 1.2},
 "encoding": {"x": {"field": "from", "type": "quantitative"}, "x2": {"field": "to"}, "y": {"datum": -1}, "y2": {"datum": 16}}},
{"data": {"name": "seqA"},
 "transform": [{"aggregate": [{"op": "min", "field": "row", "as": "start"}], "groupby": ["patient"]}],
 "mark": {"type": "rule", "color": "black", "strokeWidth": 1.2, "yOffset": -0.4},
 "encoding": {"x": {"datum": -15.23}, "x2": {"datum": 69.52}, "y": {"field": "start", "type": "quantitative"}}},
{"data": {"name": "boxesA"},
 "mark": {"type": "rect", "filled": false, "stroke": "black", "strokeWidth": 4, "yOffset": 6, "y2Offset": -3},
 "encoding": {"x": {"datum": -4.87}, "x2": {"datum": -2.31}, "y": {"field": "from", "type": "quantitative"}, "y2": {"field": "to"}}},
{"data": {"values": [{"panel": "A"}]},
 "mark": {"type": "text", "align": "center", "baseline": "alphabetic", "font": "Liberation Sans", "fontSize": 29, "color": "black"},
 "encoding": {"x": {"datum": -22.69}, "y": {"datum": -0.1}, "text": {"field": "panel"}}}
]
},
{
"width": 661, "height": 600,
"layer": [
{"data": {"name": "hlB"}, "transform": [{"filter": {"field": "line", "equal": "aa"}}],
 "mark": {"type": "rect", "yOffset": 6.3, "y2Offset": 20.3},
 "encoding": {
  "x": {"field": "from", "type": "quantitative", "scale": {"domain": [-26.006, 73.587], "nice": false, "zero": false}, "axis": null},
  "x2": {"field": "to"},
  "y": {"field": "row", "type": "quantitative", "scale": {"domain": [-1, 0, 10, 11, 13, 14, 16, 17], "range": [28.5, 43.3, 356, 393, 455.7, 494.3, 556.9, 594.5], "nice": false, "zero": false}, "axis": null},
  "y2": {"field": "row"},
  "color": {"field": "hl", "type": "nominal", "scale": {"domain": ["blue","yellow","light grey","dark grey"], "range": ["#7fc9de","#f8e500","#c8c8c8","#a8a8a8"]}, "legend": null}}},
{"data": {"name": "hlB"}, "transform": [{"filter": {"field": "line", "equal": "nt"}}],
 "mark": {"type": "rect", "yOffset": 20.3, "y2Offset": 32.5},
 "encoding": {
  "x": {"field": "from", "type": "quantitative"},
  "x2": {"field": "to"},
  "y": {"field": "row", "type": "quantitative"},
  "y2": {"field": "row"},
  "color": {"field": "hl", "type": "nominal", "legend": null}}},
{"data": {"name": "seqB"},
 "mark": {"type": "text", "align": "left", "baseline": "middle", "yOffset": 13.3, "font": "DejaVu Sans Mono", "fontSize": 11.024, "color": "#111"},
 "encoding": {"x": {"datum": 1}, "y": {"field": "row", "type": "quantitative"}, "text": {"field": "aa"}}},
{"data": {"name": "seqB"},
 "mark": {"type": "text", "align": "left", "baseline": "middle", "yOffset": 26, "font": "DejaVu Sans Mono", "fontSize": 11.024, "color": "#111"},
 "encoding": {"x": {"datum": 0}, "y": {"field": "row", "type": "quantitative"}, "text": {"field": "nt"}}},
{"data": {"name": "seqB"},
 "mark": {"type": "text", "align": "center", "baseline": "middle", "yOffset": 19.5, "font": "DejaVu Sans Mono", "fontSize": 10, "color": "#111"},
 "encoding": {"x": {"datum": -3.48}, "y": {"field": "row", "type": "quantitative"}, "text": {"field": "freq"}}},
{"data": {"name": "seqB"},
 "mark": {"type": "text", "align": "center", "baseline": "middle", "yOffset": 19.5, "font": "DejaVu Sans", "fontSize": 10, "color": "#222"},
 "encoding": {"x": {"datum": 65.68}, "y": {"field": "row", "type": "quantitative"}, "text": {"field": "trbj"}}},
{"data": {"name": "seqB"},
 "transform": [{"aggregate": [{"op": "mean", "field": "row", "as": "mid"}, {"op": "count", "as": "n"}], "groupby": ["patient"]}, {"filter": "datum.n > 1"}],
 "mark": {"type": "text", "align": "center", "baseline": "middle", "lineBreak": " ", "lineHeight": 13, "yOffset": 19.5, "font": "DejaVu Sans Mono", "fontSize": 10, "color": "#111"},
 "encoding": {"x": {"datum": -10.785}, "y": {"field": "mid", "type": "quantitative"}, "text": {"field": "patient"}}},
{"data": {"name": "seqB"},
 "transform": [{"aggregate": [{"op": "mean", "field": "row", "as": "mid"}], "groupby": ["vgene"]}],
 "mark": {"type": "text", "align": "center", "baseline": "middle", "angle": 270, "yOffset": 19.5, "font": "DejaVu Sans Mono", "fontSize": 10, "color": "#111"},
 "encoding": {"x": {"datum": -17.23}, "y": {"field": "mid", "type": "quantitative"}, "text": {"field": "vgene"}}},
{"data": {"name": "cols"},
 "transform": [{"filter": {"field": "header", "oneOf": ["patient", "freq"]}}, {"fold": ["from", "to"]}, {"aggregate": [{"op": "mean", "field": "value", "as": "mid"}], "groupby": ["header"]}],
 "mark": {"type": "text", "align": "center", "baseline": "middle", "font": "DejaVu Sans Mono", "fontSize": 10.5, "color": "#111"},
 "encoding": {"x": {"field": "mid", "type": "quantitative"}, "y": {"datum": -0.5}, "text": {"field": "header"}}},
{"data": {"name": "cols"},
 "transform": [{"filter": {"field": "header", "oneOf": ["CDR3", "TRBJ"]}}, {"fold": ["from", "to"]}, {"aggregate": [{"op": "mean", "field": "value", "as": "mid"}], "groupby": ["header"]}],
 "mark": {"type": "text", "align": "center", "baseline": "middle", "font": "DejaVu Sans", "fontSize": 13, "color": "#111"},
 "encoding": {"x": {"field": "mid", "type": "quantitative"}, "y": {"datum": -0.5}, "text": {"field": "header"}}},
{"data": {"name": "cols"},
 "mark": {"type": "rect", "filled": false, "stroke": "black", "strokeWidth": 1.2},
 "encoding": {"x": {"field": "from", "type": "quantitative"}, "x2": {"field": "to"}, "y": {"datum": -1}, "y2": {"datum": 17}}},
{"data": {"name": "seqB"},
 "transform": [{"aggregate": [{"op": "min", "field": "row", "as": "start"}], "groupby": ["patient"]}],
 "mark": {"type": "rule", "color": "black", "strokeWidth": 1.2},
 "encoding": {"x": {"datum": -15.23}, "x2": {"datum": 69.52}, "y": {"field": "start", "type": "quantitative"}}},
{"data": {"name": "boxesB"},
 "mark": {"type": "rect", "filled": false, "stroke": "black", "strokeWidth": 4, "yOffset": 6, "y2Offset": -3},
 "encoding": {"x": {"datum": -4.87}, "x2": {"datum": -2.31}, "y": {"field": "from", "type": "quantitative"}, "y2": {"field": "to"}}},
{"data": {"values": [{"panel": "B"}]},
 "mark": {"type": "text", "align": "center", "baseline": "alphabetic", "font": "Liberation Sans", "fontSize": 29, "color": "black"},
 "encoding": {"x": {"datum": -22.99}, "y": {"datum": -0.3}, "text": {"field": "panel"}}}
]
},
{
"width": 661, "height": 111,
"layer": [
{"data": {"values": [{"panel": "C"}]},
 "mark": {"type": "text", "align": "center", "baseline": "alphabetic", "yOffset": 0, "font": "Liberation Sans", "fontSize": 27, "color": "black"},
 "encoding": {
  "x": {"datum": -23.6, "scale": {"domain": [-26.006, 73.587], "nice": false, "zero": false}, "axis": null},
  "y": {"datum": 0, "scale": {"domain": [0, 1, 3], "range": [43, 65.5, 102.5], "nice": false, "zero": false}, "axis": null},
  "text": {"field": "panel"}}},
{"data": {"values": [{"rule": "header"}]},
 "mark": {"type": "rule", "color": "black", "strokeWidth": 2, "yOffset": 3},
 "encoding": {"x": {"datum": -19.83}, "x2": {"datum": 72.99}, "y": {"datum": 0}}},
{"data": {"values": [{"h": "V-gene"}]},
 "mark": {"type": "text", "align": "center", "baseline": "alphabetic", "font": "Liberation Sans", "fontWeight": "bold", "fontSize": 14, "color": "black"},
 "encoding": {"x": {"datum": -16.5}, "y": {"datum": 0}, "text": {"field": "h"}}},
{"data": {"values": [{"h": "CDR3 motif"}]},
 "mark": {"type": "text", "align": "center", "baseline": "alphabetic", "font": "Liberation Sans", "fontWeight": "bold", "fontSize": 14, "color": "black"},
 "encoding": {"x": {"datum": -4.16}, "y": {"datum": 0}, "text": {"field": "h"}}},
{"data": {"values": [{"h": "celiac clones"}]},
 "mark": {"type": "text", "align": "center", "baseline": "alphabetic", "font": "Liberation Sans", "fontWeight": "bold", "fontSize": 14, "color": "black"},
 "encoding": {"x": {"datum": 10.76}, "y": {"datum": 0}, "text": {"field": "h"}}},
{"data": {"values": [{"h": "healthy clones"}]},
 "mark": {"type": "text", "align": "center", "baseline": "alphabetic", "font": "Liberation Sans", "fontWeight": "bold", "fontSize": 14, "color": "black"},
 "encoding": {"x": {"datum": 29.29}, "y": {"datum": 0}, "text": {"field": "h"}}},
{"data": {"values": [{"h": "Significance"}]},
 "mark": {"type": "text", "align": "right", "baseline": "alphabetic", "font": "Liberation Sans", "fontWeight": "bold", "fontSize": 14, "color": "black"},
 "encoding": {"x": {"datum": 73.14}, "y": {"datum": 0}, "text": {"field": "h"}}},
{"data": {"name": "tableC"}, "transform": [{"window": [{"op": "row_number", "as": "r"}]}],
 "mark": {"type": "text", "align": "center", "baseline": "alphabetic", "font": "Liberation Sans", "fontSize": 14.5, "color": "black"},
 "encoding": {"x": {"datum": -15.5}, "y": {"field": "r", "type": "quantitative"}, "text": {"field": "vgene"}}},
{"data": {"name": "tableC"}, "transform": [{"window": [{"op": "row_number", "as": "r"}]}],
 "mark": {"type": "text", "align": "center", "baseline": "alphabetic", "font": "Liberation Sans", "fontSize": 14.5, "color": "black"},
 "encoding": {"x": {"datum": -3.56}, "y": {"field": "r", "type": "quantitative"}, "text": {"field": "motif"}}},
{"data": {"name": "tableC"}, "transform": [{"window": [{"op": "row_number", "as": "r"}]}],
 "mark": {"type": "text", "align": "right", "baseline": "alphabetic", "font": "Liberation Sans", "fontSize": 14.5, "color": "black"},
 "encoding": {"x": {"datum": 16.48}, "y": {"field": "r", "type": "quantitative"}, "text": {"field": "celiac"}}},
{"data": {"name": "tableC"}, "transform": [{"window": [{"op": "row_number", "as": "r"}]}],
 "mark": {"type": "text", "align": "center", "baseline": "alphabetic", "font": "Liberation Sans", "fontSize": 14.5, "color": "black"},
 "encoding": {"x": {"datum": 28.99}, "y": {"field": "r", "type": "quantitative"}, "text": {"field": "healthy"}}},
{"data": {"name": "tableC"}, "transform": [{"window": [{"op": "row_number", "as": "r"}]}],
 "mark": {"type": "text", "align": "center", "baseline": "alphabetic", "font": "Liberation Sans", "fontSize": 14.5, "color": "black"},
 "encoding": {"x": {"datum": 68.01}, "y": {"field": "r", "type": "quantitative"}, "text": {"field": "sig"}}}
]
}
]
}
